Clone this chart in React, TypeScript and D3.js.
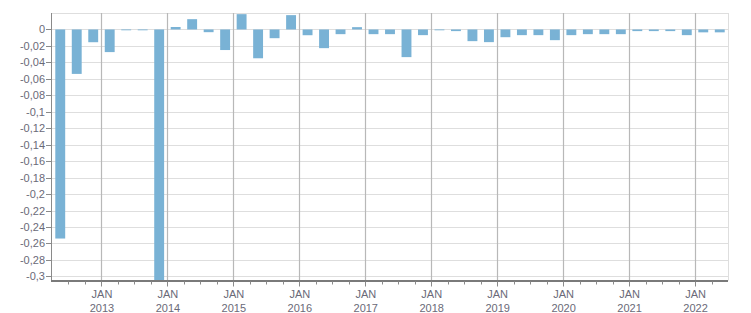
import React from "react";
import * as d3 from "d3";

const quarters = [
  "2012-Q2","2012-Q3","2012-Q4",
  "2013-Q1","2013-Q2","2013-Q3","2013-Q4",
  "2014-Q1","2014-Q2","2014-Q3","2014-Q4",
  "2015-Q1","2015-Q2","2015-Q3","2015-Q4",
  "2016-Q1","2016-Q2","2016-Q3","2016-Q4",
  "2017-Q1","2017-Q2","2017-Q3","2017-Q4",
  "2018-Q1","2018-Q2","2018-Q3","2018-Q4",
  "2019-Q1","2019-Q2","2019-Q3","2019-Q4",
  "2020-Q1","2020-Q2","2020-Q3","2020-Q4",
  "2021-Q1","2021-Q2","2021-Q3","2021-Q4",
  "2022-Q1","2022-Q2",
];

const values = [
  -0.254, -0.054, -0.0155,
  -0.0275, -0.001, -0.001, -0.32,
  0.003, 0.0125, -0.0033, -0.025,
  0.0186, -0.035, -0.0106, 0.0174,
  -0.007, -0.0227, -0.0057, 0.0028,
  -0.0057, -0.0057, -0.0336, -0.0069,
  -0.001, -0.002, -0.0142, -0.0154,
  -0.0094, -0.0069, -0.0069, -0.013,
  -0.0069, -0.0057, -0.0057, -0.0057,
  -0.002, -0.002, -0.002, -0.0069,
  -0.0035, -0.0035,
];

const yearLabels = ["2013","2014","2015","2016","2017","2018","2019","2020","2021","2022"];
const yTicks = d3.range(0, 16).map((i) => -i * 0.02);

const W = 751, H = 313;
const left = 52, right = 728, top = 13, bottom = 280.5;

export default function App() {
  const x = d3.scaleLinear().domain([0, quarters.length]).range([left, right]);
  const y = d3.scaleLinear().domain([-0.305, 0.02]).range([bottom, top]);
  const fmt = (v: number) => {
    const r = +v.toFixed(2);
    return r === 0 ? "0" : String(r).replace(".", ",");
  };
  const yearIdx = yearLabels.map((yl) => quarters.indexOf(yl + "-Q1"));
  const font = "'Liberation Sans', Arial, sans-serif";
  const textColor = "#6a6a78";
  return (
    <svg width={W} height={H} style={{ position: "absolute", left: 0, top: 0, display: "block" }}>
      <defs>
        <clipPath id="plot">
          <rect x={left} y={top} width={right - left} height={bottom - top} />
        </clipPath>
      </defs>
      <rect x={0} y={0} width={W} height={H} fill="#fff" />
      {/* horizontal gridlines */}
      {[0.02, ...yTicks].map((t) => (
        <line key={"g" + t} x1={left} x2={right} y1={Math.round(y(t)) + 0.5} y2={Math.round(y(t)) + 0.5} stroke="#dedede" strokeWidth={1} />
      ))}
      <line x1={right + 0.5} x2={right + 0.5} y1={top} y2={bottom} stroke="#dedede" />
      {/* vertical year gridlines */}
      {yearIdx.map((i) => (
        <line key={"v" + i} x1={Math.round(x(i)) + 0.5} x2={Math.round(x(i)) + 0.5} y1={top} y2={bottom} stroke="#b8b8b8" strokeWidth={1.2} />
      ))}
      {/* bars */}
      <g clipPath="url(#plot)">
        {values.map((v, i) => {
          const y0 = y(0), y1 = y(v);
          return (
            <rect key={quarters[i]} x={x(i + 0.2)} width={x(i + 0.8) - x(i + 0.2)}
              y={Math.min(y0, y1)} height={Math.max(Math.abs(y1 - y0), 0.8)} fill="#79b2d5" />
          );
        })}
      </g>
      {/* y axis */}
      <line x1={left - 0.5} x2={left - 0.5} y1={top} y2={bottom} stroke="#8a8a8a" strokeWidth={1} />
      {yTicks.map((t) => (
        <g key={"yt" + t}>
          <line x1={left - 6} x2={left - 1} y1={Math.round(y(t)) + 0.5} y2={Math.round(y(t)) + 0.5} stroke="#8a8a8a" />
          <text x={left - 7} y={y(t) + 4} textAnchor="end" fontFamily={font} fontSize={11} fill={textColor}>{fmt(t)}</text>
        </g>
      ))}
      {/* x axis */}
      <line x1={left - 1} x2={right} y1={bottom + 0.5} y2={bottom + 0.5} stroke="#7a7a7a" strokeWidth={2} />
      {d3.range(1, quarters.length).map((i) => (
        <line key={"mt" + i} x1={Math.round(x(i)) + 0.5} x2={Math.round(x(i)) + 0.5} y1={bottom + 1} y2={bottom + (yearIdx.includes(i) ? 6 : 4)} stroke="#8a8a8a" />
      ))}
      {yearIdx.map((i, k) => (
        <g key={"xl" + i} fontFamily={font} fontSize={11} fill={textColor} textAnchor="middle">
          <text x={x(i) + 0.5} y={298}>JAN</text>
          <text x={x(i) + 0.5} y={311.5}>{yearLabels[k]}</text>
        </g>
      ))}
    </svg>
  );
}
